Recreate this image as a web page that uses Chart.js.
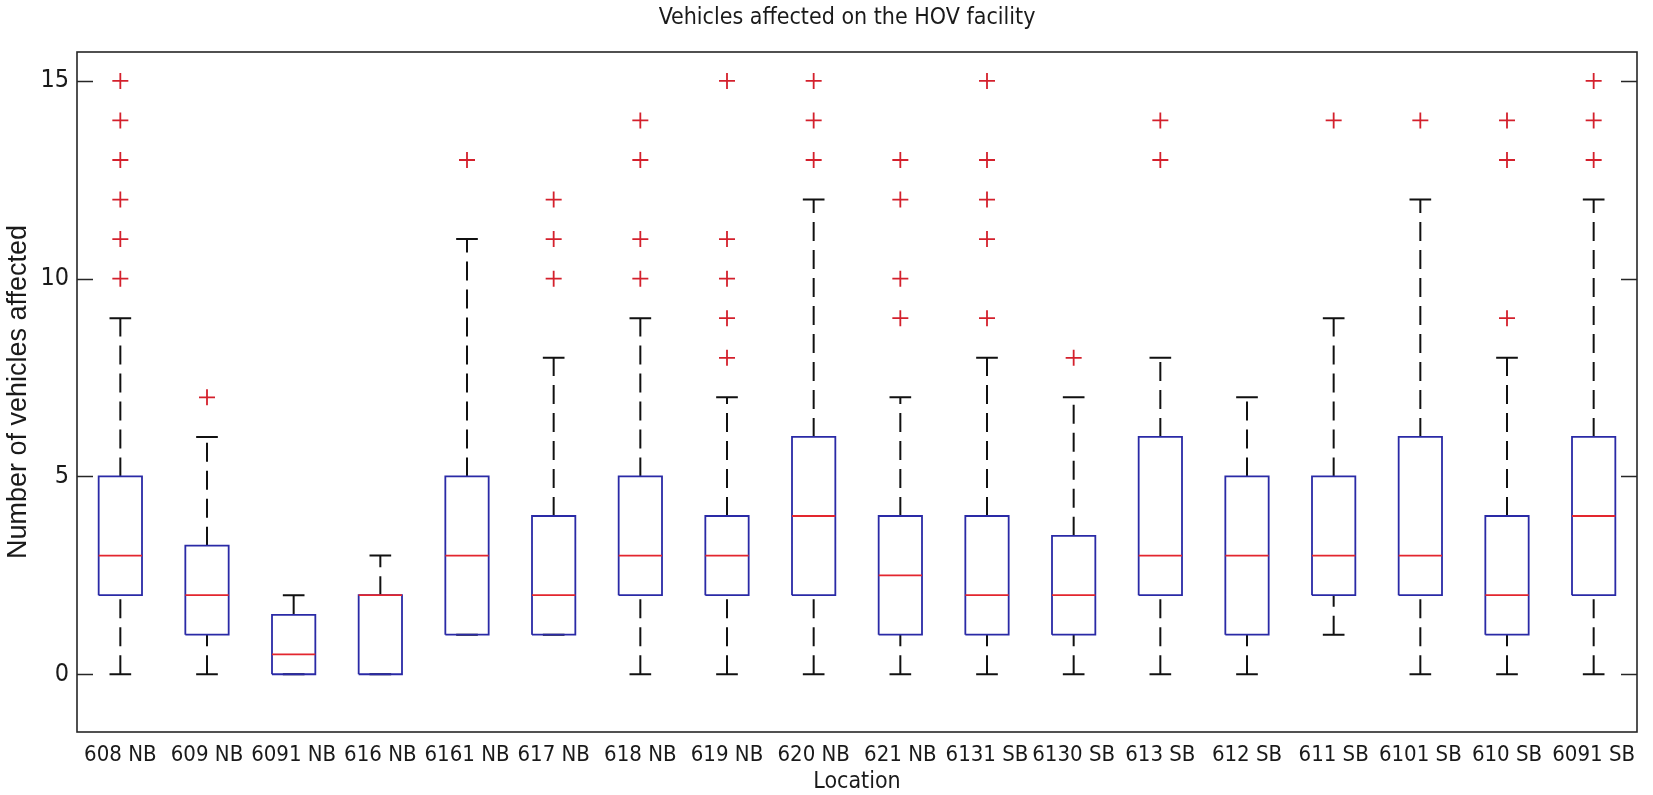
<!DOCTYPE html>
<html>
<head>
<meta charset="utf-8">
<script src="https://cdn.jsdelivr.net/npm/chart.js@4.4.1/dist/chart.umd.min.js"></script>
<style>
  html, body { margin: 0; padding: 0; background: #fff; }
  #wrap { width: 1653px; height: 795px; }
</style>
</head>
<body>
<div id="wrap"><canvas id="box_chart"></canvas></div>
<script>
// values
var categories = ["608 NB", "609 NB", "6091 NB", "616 NB", "6161 NB", "617 NB", "618 NB", "619 NB", "620 NB",
  "621 NB", "6131 SB", "6130 SB", "613 SB", "612 SB", "611 SB", "6101 SB", "610 SB", "6091 SB"];
var lowerWhisker = [0, 0, 0, 0, 1, 1, 0, 0, 0, 0, 0, 0, 0, 0, 1, 0, 0, 0];
var q1 = [2, 1, 0, 0, 1, 1, 2, 2, 2, 1, 1, 1, 2, 1, 2, 2, 1, 2];
var medians = [3, 2, 0.5, 2, 3, 2, 3, 3, 4, 2.5, 2, 2, 3, 3, 3, 3, 2, 4];
var q3 = [5, 3.25, 1.5, 2, 5, 4, 5, 4, 6, 4, 4, 3.5, 6, 5, 5, 6, 4, 6];
var upperWhisker = [9, 6, 2, 3, 11, 8, 9, 7, 12, 7, 8, 7, 8, 7, 9, 12, 8, 12];
var outliers = [[10, 11, 12, 13, 14, 15], [7], [], [], [13], [10, 11, 12], [10, 11, 13, 14], [8, 9, 10, 11, 15],
  [13, 14, 15], [9, 10, 12, 13], [9, 11, 12, 13, 15], [8], [13, 14], [], [14], [14], [9, 13, 14], [13, 14, 15]];
var yTicks = [0, 5, 10, 15];
var chartTitle = "Vehicles affected on the HOV facility";

var narrowFont = "'Liberation Sans Narrow', 'DejaVu Sans Condensed', 'Liberation Sans', sans-serif";
var boxHalf = 0.25;
var capHalf = 0.125;
var gap = { x: null, y: null };

// build line segments (null point = break)
var whiskerPts = [];
var capPts = [];
var boxPts = [];
var medianPts = [];
var outlierPts = [];
for (var i = 0; i < categories.length; i++) {
  var x = i + 1;
  whiskerPts.push({ x: x, y: q3[i] }, { x: x, y: upperWhisker[i] }, gap);
  whiskerPts.push({ x: x, y: lowerWhisker[i] }, { x: x, y: q1[i] }, gap);
  capPts.push({ x: x - capHalf, y: upperWhisker[i] }, { x: x + capHalf, y: upperWhisker[i] }, gap);
  capPts.push({ x: x - capHalf, y: lowerWhisker[i] }, { x: x + capHalf, y: lowerWhisker[i] }, gap);
  boxPts.push({ x: x - boxHalf, y: q1[i] }, { x: x + boxHalf, y: q1[i] }, { x: x + boxHalf, y: q3[i] },
    { x: x - boxHalf, y: q3[i] }, { x: x - boxHalf, y: q1[i] }, gap);
  medianPts.push({ x: x - boxHalf, y: medians[i] }, { x: x + boxHalf, y: medians[i] }, gap);
  outliers[i].forEach(function (v) { outlierPts.push({ x: x, y: v }); });
}

function segs(data, color, width, dash, order) {
  return {
    data: data, showLine: true, borderColor: color, borderWidth: width, borderDash: dash || [],
    pointRadius: 0, tension: 0, spanGaps: false, order: order, clip: false
  };
}

// frame + inward ticks like MATLAB axes, and the title
var framePlugin = {
  id: "frame",
  afterDraw: function (chart) {
    var ctx = chart.ctx, xs = chart.scales.x, ys = chart.scales.y;
    var left = xs.getPixelForValue(xs.min), right = xs.getPixelForValue(xs.max);
    var top = ys.getPixelForValue(ys.max), bottom = ys.getPixelForValue(ys.min);
    ctx.save();
    ctx.strokeStyle = "#262626";
    ctx.lineWidth = 1.6;
    ctx.strokeRect(left, top, right - left, bottom - top);
    yTicks.forEach(function (t) {
      var py = Math.round(ys.getPixelForValue(t)) + 0.5;
      ctx.beginPath();
      ctx.moveTo(left, py); ctx.lineTo(left + 16, py);
      ctx.moveTo(right, py); ctx.lineTo(right - 16, py);
      ctx.stroke();
    });
    ctx.fillStyle = "#1a1a1a";
    ctx.font = "23px " + narrowFont;
    ctx.textAlign = "center";
    ctx.textBaseline = "middle";
    ctx.fillText(chartTitle, (left + right) / 2 - 10, 18);
    ctx.restore();
  }
};

var ctx = document.getElementById("box_chart");
new Chart(ctx, {
  type: "scatter",
  data: {
    datasets: [
      segs(medianPts, "#e3262e", 1.8, null, 1),
      segs(boxPts, "#2a2aa6", 1.8, null, 2),
      segs(capPts, "#111111", 2, null, 3),
      segs(whiskerPts, "#111111", 2, [19, 9], 4),
      {
        data: outlierPts, showLine: false, pointStyle: "cross", pointRadius: 8, borderWidth: 1.8,
        borderColor: "#d4202c", backgroundColor: "#d4202c", order: 0, clip: false
      }
    ]
  },
  options: {
    responsive: true,
    maintainAspectRatio: false,
    animation: false,
    layout: { autoPadding: false, padding: { left: 0, right: 16, top: 52, bottom: 0 } },
    plugins: {
      legend: { display: false },
      tooltip: { enabled: false },
      title: { display: false }
    },
    scales: {
      x: {
        type: "linear",
        min: 0.5,
        max: 18.5,
        afterBuildTicks: function (scale) {
          scale.ticks = categories.map(function (c, i) { return { value: i + 1 }; });
        },
        afterFit: function (scale) {
          scale.height = 63;
          scale.paddingLeft = 0;
          scale.paddingRight = 0;
        },
        grid: { display: false, drawTicks: false },
        border: { display: false },
        ticks: {
          autoSkip: false, maxRotation: 0, padding: 10, color: "#1a1a1a",
          font: { family: narrowFont, size: 22 },
          callback: function (v) { return categories[Math.round(v) - 1]; }
        },
        title: {
          display: true, text: "Location", color: "#1a1a1a", padding: { top: 0, bottom: 0 },
          font: { family: narrowFont, size: 23, lineHeight: 1.1 }
        }
      },
      y: {
        min: -1.46,
        max: 15.73,
        afterBuildTicks: function (scale) {
          scale.ticks = yTicks.map(function (v) { return { value: v }; });
        },
        afterFit: function (scale) { scale.width = 77; },
        grid: { display: false, drawTicks: false },
        border: { display: false },
        ticks: { padding: 8, color: "#1a1a1a", font: { family: narrowFont, size: 25 } },
        title: {
          display: true, text: "Number of vehicles affected", color: "#1a1a1a",
          padding: { top: 2, bottom: 0 },
          font: { family: "'Liberation Sans', Arial, sans-serif", size: 27 }
        }
      }
    }
  },
  plugins: [framePlugin]
});
</script>
</body>
</html>
